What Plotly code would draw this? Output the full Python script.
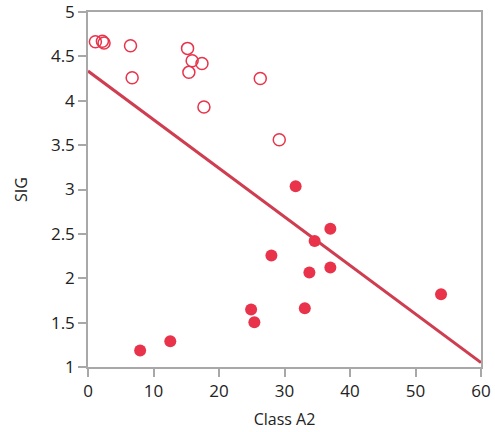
import plotly.graph_objects as go

# Open-circle series
open_x = [1.13, 2.2, 2.45, 6.49, 6.74, 15.2, 15.9, 15.4, 17.4, 17.7, 26.3, 29.2]
open_y = [4.665, 4.67, 4.65, 4.62, 4.26, 4.59, 4.45, 4.32, 4.42, 3.93, 4.25, 3.56]

# Filled series
filled_x = [31.7, 37.0, 34.6, 28.0, 33.8, 37.0, 53.9, 24.9, 25.4, 33.1, 7.96, 12.56]
filled_y = [3.036, 2.557, 2.42, 2.257, 2.065, 2.12, 1.82, 1.648, 1.505, 1.663, 1.185, 1.29]

# Fit line endpoints
fit_x = [0, 60]
fit_y = [4.335, 1.05]

x_ticks = [0, 10, 20, 30, 40, 50, 60]
y_ticks = [1, 1.5, 2, 2.5, 3, 3.5, 4, 4.5, 5]

MARK = "#e8334a"
LINE = "#cf3d50"
AX = "#a8a8a8"

fig = go.Figure()
fig.add_trace(go.Scatter(x=fit_x, y=fit_y, mode="lines",
                         line=dict(color=LINE, width=3), hoverinfo="skip"))
fig.add_trace(go.Scatter(x=open_x, y=open_y, mode="markers",
                         marker=dict(symbol="circle-open", size=12, color=MARK,
                                     line=dict(width=1.5, color=MARK))))
fig.add_trace(go.Scatter(x=filled_x, y=filled_y, mode="markers",
                         marker=dict(symbol="circle", size=12, color=MARK,
                                     line=dict(width=0))))

fig.update_layout(
    width=495, height=432,
    margin=dict(l=88, r=14, t=12, b=65, autoexpand=False),
    paper_bgcolor="white", plot_bgcolor="white",
    showlegend=False,
    font=dict(family="Open Sans, Noto Sans, sans-serif", size=16, color="#222222"),
)
fig.update_xaxes(range=[0, 60], tickvals=x_ticks, showgrid=False, zeroline=False,
                 showline=True, linecolor=AX, linewidth=1.5, mirror=True,
                 ticks="outside", ticklen=8, tickwidth=1.5, tickcolor=AX,
                 automargin=False, tickfont=dict(size=17), ticklabeloverflow="allow",
                 title=dict(text="Class A2", font=dict(size=16), standoff=13))
fig.update_yaxes(range=[1, 5], tickvals=y_ticks, showgrid=False, zeroline=False,
                 showline=True, linecolor=AX, linewidth=1.5, mirror=True,
                 ticks="outside", ticklen=8, tickwidth=1.5, tickcolor=AX,
                 automargin=False, tickfont=dict(size=17), ticklabeloverflow="allow",
                 title=dict(text="SIG", font=dict(size=16), standoff=19))

fig.write_html("out.html", config={"displayModeBar": False},
               post_script="document.body.style.margin='0';document.body.style.overflow='hidden';")
